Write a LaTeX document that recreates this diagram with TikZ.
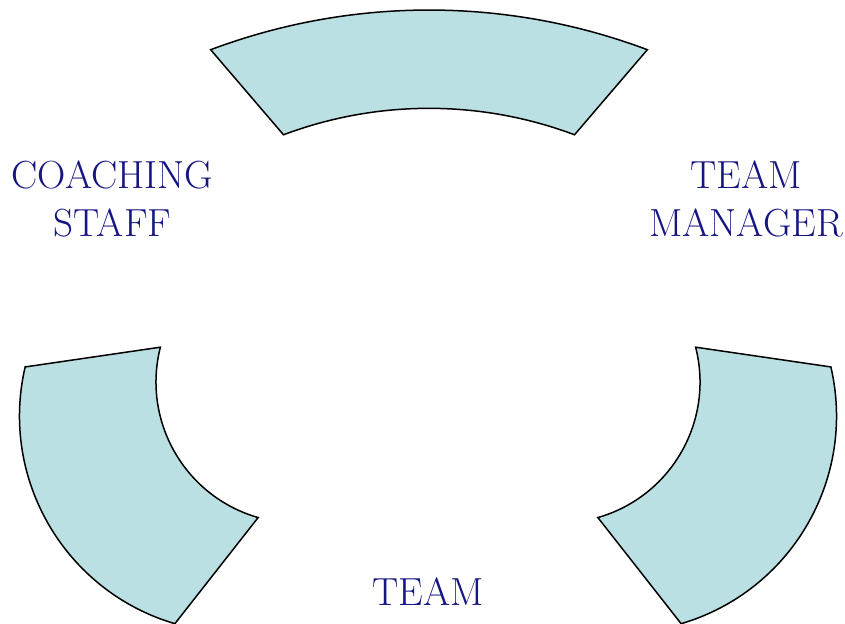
\documentclass[tikz,border=0pt]{standalone}
\usepackage{tikz,xcolor}

\begin{document}
\begin{tikzpicture}[x=0.5pt, y=-0.5pt,
  bandshape/.style={fill=bandfill, draw=black, line width=0.75pt},
  lbl/.style={font=\fontsize{19.6}{24}\selectfont, text=labelblue, align=center, inner sep=0pt}]

% ── Colours ──
\definecolor{bandfill}{RGB}{186,224,227}
\definecolor{labelblue}{RGB}{22,22,130}

% ── Frame: pixel grid, y runs down ──
\useasboundingbox (0,0) rectangle (845,623);

% ── Top band ──
\filldraw[bandshape] ([shift={(429,630.6)}]249.4:620.6) arc[start angle=249.4, end angle=290.6, radius=620.6]
  -- ([shift={(429,521.9)}]290.6:413.6) arc[start angle=290.6, end angle=249.4, radius=413.6] -- cycle;

% ── Lower left band ──
\filldraw[bandshape] ([shift={(236,416)}]193.1:216.5) arc[start angle=193.1, end angle=106.4, radius=216.5]
  -- ([shift={(297,382)}]106.0:141) arc[start angle=106.0, end angle=194.3, radius=141] -- cycle;

% ── Lower right band ──
\filldraw[bandshape] ([shift={(620,416)}]-13.1:216.5) arc[start angle=-13.1, end angle=73.6, radius=216.5]
  -- ([shift={(559,382)}]74.0:141) arc[start angle=74.0, end angle=-14.3, radius=141] -- cycle;

% ── Labels ──
\node[lbl] (coach) at (112.5,198.5) {COACHING\\STAFF};
\node[lbl] (manager) at (746,198.5) {TEAM\\MANAGER};
\node[lbl, anchor=base] (team) at (428,605) {TEAM};

\end{tikzpicture}
\end{document}
